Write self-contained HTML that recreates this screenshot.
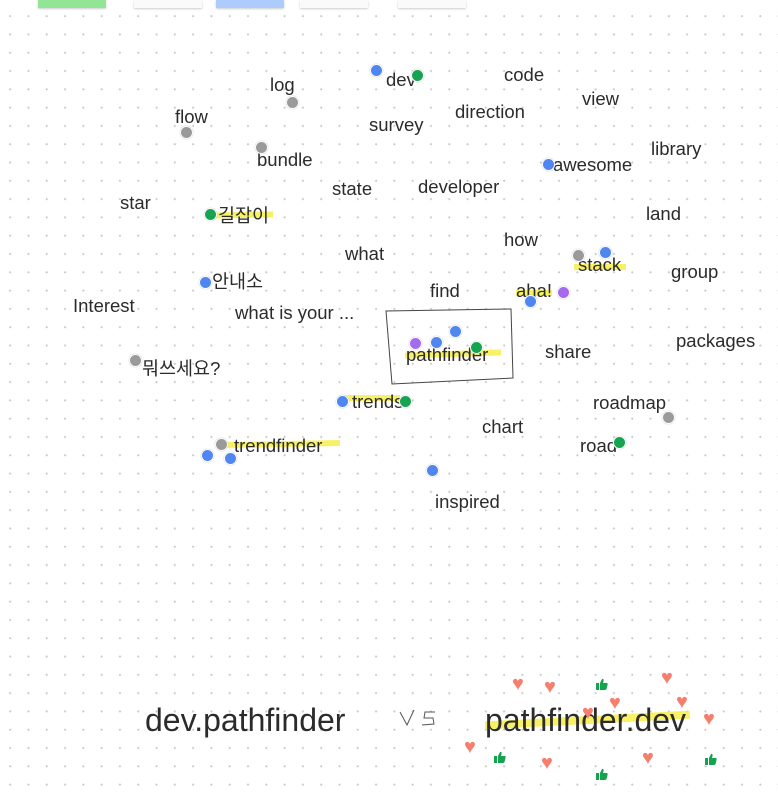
<!DOCTYPE html>
<html><head><meta charset="utf-8">
<style>
body{margin:0;width:778px;height:798px;overflow:hidden;background:#fff;font-family:"Liberation Sans","Noto Sans CJK KR",sans-serif;}
#board{position:relative;width:778px;height:798px;background-image:radial-gradient(circle,#c8c8c8 0.9px,transparent 1.2px);background-size:18.3px 18.3px;background-position:1px 7px;}
.w{position:absolute;font-size:18.5px;color:#2b2b2b;white-space:nowrap;line-height:20px;}
.hl{position:absolute;height:6px;background:#f7ef4a;opacity:.85;}
.dot{position:absolute;width:11px;height:11px;border-radius:50%;border:1.5px solid #fff;box-shadow:0 0 1px #999;}
.sticky{position:absolute;top:0;height:8px;box-shadow:0 1px 2px #ccc;}
.big{position:absolute;font-size:32px;color:#2b2b2b;line-height:34px;}
.heart{position:absolute;color:#f57f6c;font-size:20px;line-height:16px;}
.thumb{position:absolute;width:12px;height:12px;}
</style></head>
<body>
<div id="board">
<div class="sticky" style="left:38px;width:68px;background:#93e596"></div>
<div class="sticky" style="left:134px;width:68px;background:#fafafa"></div>
<div class="sticky" style="left:216px;width:68px;background:#adcbfd"></div>
<div class="sticky" style="left:300px;width:68px;background:#fafafa"></div>
<div class="sticky" style="left:398px;width:68px;background:#fafafa"></div>

<div class="hl" style="left:205px;top:212px;width:68px;transform:rotate(-1deg)"></div>
<div class="hl" style="left:574px;top:264px;width:52px"></div>
<div class="hl" style="left:516px;top:290px;width:36px"></div>
<div class="hl" style="left:405px;top:351px;width:96px;transform:rotate(-2deg)"></div>
<div class="hl" style="left:340px;top:395px;width:60px"></div>
<div class="hl" style="left:222px;top:441px;width:118px;transform:rotate(-1deg)"></div>
<div class="hl" style="left:485px;top:716px;width:205px;height:8px;transform:rotate(-3deg)"></div>

<svg style="position:absolute;left:0;top:0" width="778" height="798">
<path d="M386 311 L511 309 L513 378 L392 384 Z" fill="none" stroke="#444" stroke-width="1"/>
<path d="M400 712 L407 725 L414 710 M435 712 L425 712 L424 718 L433 718 L434 724 L422 725" fill="none" stroke="#555" stroke-width="1"/>
</svg>

<div class="big" style="left:145px;top:703px">dev.pathfinder</div>
<div class="big" style="left:485px;top:703px">pathfinder.dev</div>
</div>
<script>
const words=[["log",270,85],["dev",386,80],["code",504,75],["view",582,99],["flow",175,117],["direction",455,112],["survey",369,125],["library",651,149],["bundle",257,160],["awesome",553,165],["star",120,203],["state",332,189],["developer",418,187],["길잡이",218,216],["land",646,214],["how",504,240],["what",345,254],["stack",578,265],["group",671,272],["안내소",212,282],["find",430,291],["aha!",516,291],["Interest",73,306],["what is your ...",235,313],["packages",676,341],["pathfinder",406,355],["share",545,352],["뭐쓰세요?",142,369],["trends",352,402],["roadmap",593,403],["chart",482,427],["trendfinder",234,446],["road",580,446],["inspired",435,502]];
const dots=[["b",376,70],["g",417,75],["k",292,102],["k",186,132],["k",261,147],["b",548,164],["g",210,214],["k",578,255],["b",605,252],["b",205,282],["b",530,301],["p",563,292],["b",455,331],["p",415,343],["b",436,342],["g",476,347],["k",135,360],["b",342,401],["g",405,401],["k",668,417],["g",619,442],["k",221,444],["b",207,455],["b",230,458],["b",432,470]];
const hearts=[[519,684],[551,687],[668,678],[616,703],[683,702],[589,713],[710,719],[471,747],[548,763],[649,758]];
const thumbs=[[602,684],[500,757],[602,774],[711,759]];
const colors={b:"#4f86f0",g:"#17a452",k:"#9a9a9a",p:"#a56bee"};
const board=document.getElementById('board');
words.forEach(w=>{const d=document.createElement('div');d.className='w';d.textContent=w[0];d.style.left=w[1]+'px';d.style.top=(w[2]-10)+'px';


board.appendChild(d);});
dots.forEach(p=>{const d=document.createElement('div');d.className='dot';d.style.background=colors[p[0]];d.style.left=(p[1]-6)+'px';d.style.top=(p[2]-6)+'px';


board.appendChild(d);});
hearts.forEach(p=>{const d=document.createElement('div');d.className='heart';d.textContent='♥';d.style.left=(p[0]-7)+'px';d.style.top=(p[1]-8)+'px';


board.appendChild(d);});
const NS='http://www.w3.org/2000/svg';
thumbs.forEach(p=>{const s=document.createElementNS(NS,'svg');s.setAttribute('class','thumb');s.setAttribute('viewBox','0 0 12 12');
s.style.left=(p[0]-6)+'px';s.style.top=(p[1]-6)+'px';
s.innerHTML='<rect x="0" y="5" width="3" height="7" fill="#14a44d"/><path d="M4 5 L6 1 Q8 0.5 7.5 3 L7 5 L11 5 Q12 5.5 11.5 7 L10.5 11 Q10 12 9 12 L4 12 Z" fill="#14a44d"/>';


board.appendChild(s);});
</script>
</body></html>
